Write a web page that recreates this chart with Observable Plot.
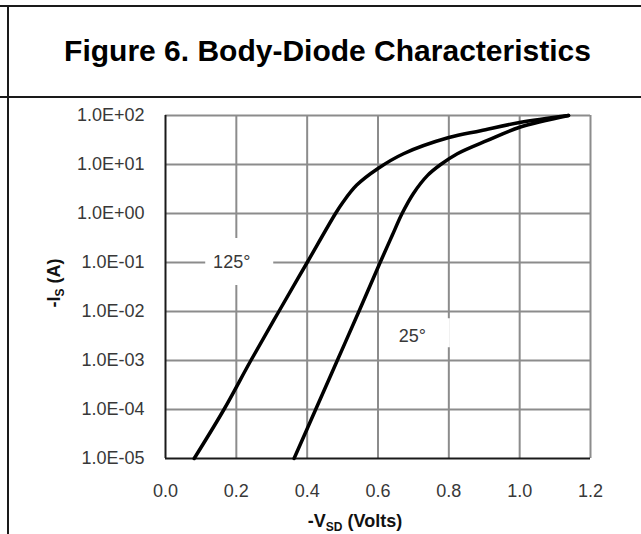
<!DOCTYPE html>
<html>
<head>
<meta charset="utf-8">
<script src="https://cdn.jsdelivr.net/npm/d3@7"></script>
<script src="https://cdn.jsdelivr.net/npm/@observablehq/plot@0.6"></script>
<style>
  html, body { margin: 0; padding: 0; background: #fff; }
  #wrap { position: relative; width: 641px; height: 534px; overflow: hidden; font-family: "Liberation Sans", Arial, sans-serif; }
  .hl { position: absolute; left: 0; width: 641px; height: 2px; background: #1a1a1a; }
  .vl { position: absolute; left: 7px; top: 5px; width: 2px; height: 529px; background: #1a1a1a; }
  #title { position: absolute; left: 8px; right: 0; top: 34px; text-align: center; font-weight: bold; font-size: 30px; color: #000; line-height: 34px; padding-left: 6px; }
  #chart { position: absolute; left: 0; top: 98px; }
</style>
</head>
<body>
<div id="wrap">
  <div class="hl" style="top:5px"></div>
  <div class="hl" style="top:96px"></div>
  <div class="vl"></div>
  <div id="title">Figure 6. Body-Diode Characteristics</div>
  <div id="chart"></div>
</div>
<script>
// Tick values and labels
const xTicks = [0, 0.2, 0.4, 0.6, 0.8, 1.0, 1.2];
const xTickLabels = ["0.0", "0.2", "0.4", "0.6", "0.8", "1.0", "1.2"];
const yTicks = [1e-5, 1e-4, 1e-3, 1e-2, 1e-1, 1e0, 1e1, 1e2];
const yTickLabels = ["1.0E-05", "1.0E-04", "1.0E-03", "1.0E-02", "1.0E-01", "1.0E+00", "1.0E+01", "1.0E+02"];

// 125 °C curve: -V_SD (V) and -I_S (A)
const vsd125 = [0.081, 0.165, 0.241, 0.320, 0.400, 0.480, 0.500, 0.540, 0.600, 0.672, 0.800, 0.890, 1.000, 1.138];
const is125  = [1e-5, 1e-4, 1e-3, 1e-2, 1e-1, 1.0, 1.66, 3.8, 8.3, 16.6, 35.5, 49, 72, 100];

// 25 °C curve
const vsd25 = [0.363, 0.424, 0.485, 0.546, 0.606, 0.640, 0.668, 0.700, 0.740, 0.777, 0.824, 0.909, 1.000, 1.138];
const is25  = [1e-5, 1e-4, 1e-3, 1e-2, 1e-1, 0.355, 1.0, 2.57, 6.0, 10, 16.6, 31, 57.5, 100];

// Curve annotations
const labelText = ["125°", "25°"];
const labelV = [0.187, 0.697];
const labelI = [0.1, 0.0032];

const data = [
  ...vsd125.map((v, i) => ({series: "125", v, i: is125[i]})),
  ...vsd25.map((v, i) => ({series: "25", v, i: is25[i]}))
];
const labels = labelText.map((t, k) => ({t, v: labelV[k], i: labelI[k]}));

const gridColor = "#8c8c8c";
const textColor = "#383838";

const plot = Plot.plot({
  width: 641,
  height: 436,
  marginTop: 17,
  marginBottom: 76,
  marginLeft: 165,
  marginRight: 51,
  style: {fontFamily: "'Liberation Sans', Arial, sans-serif", fontSize: "18px", color: textColor, background: "transparent"},
  x: {domain: [0, 1.2]},
  y: {type: "log", domain: [1e-5, 100]},
  marks: [
    Plot.ruleX(xTicks.slice(1), {stroke: gridColor, strokeWidth: 2}),
    Plot.ruleY(yTicks.slice(1), {stroke: gridColor, strokeWidth: 2}),
    // white backing boxes behind the curve labels
    Plot.rect(labels.filter(d => d.t === "125°"), {x1: "v", x2: "v", y1: "i", y2: "i", fill: "white",
      insetLeft: -26, insetRight: -42, insetTop: -24, insetBottom: -23}),
    Plot.rect(labels.filter(d => d.t === "25°"), {x1: "v", x2: "v", y1: "i", y2: "i", fill: "white",
      insetLeft: -18, insetRight: -38, insetTop: -17, insetBottom: -12}),
    Plot.ruleX([0], {stroke: "#1a1a1a", strokeWidth: 2}),
    Plot.ruleY([1e-5], {stroke: "#1a1a1a", strokeWidth: 2}),
    Plot.line(data, {x: "v", y: "i", z: "series", stroke: "#000", strokeWidth: 3.5, curve: "catmull-rom"}),
    Plot.text(labels, {x: "v", y: "i", text: "t", fontSize: 18, fill: textColor}),
    Plot.axisX({ticks: xTicks, tickFormat: d => xTickLabels[xTicks.indexOf(d)], tickSize: 0, tickPadding: 26, label: null, fontSize: 18}),
    Plot.axisY({ticks: yTicks, tickFormat: d => yTickLabels[yTicks.indexOf(d)], tickSize: 0, tickPadding: 21, label: null, fontSize: 18})
  ]
});

const svg = d3.select(plot);
// x-axis title with subscript
const xt = svg.append("text")
  .attr("x", 355).attr("y", 429)
  .attr("text-anchor", "middle")
  .attr("font-weight", "bold").attr("font-size", 18).attr("fill", "#111");
xt.append("tspan").text("-V");
xt.append("tspan").attr("font-size", 12).attr("dy", 4).text("SD");
xt.append("tspan").attr("dy", -4).text(" (Volts)");

// y-axis title with subscript
const yt = svg.append("text")
  .attr("transform", "translate(60,185) rotate(-90)")
  .attr("text-anchor", "middle")
  .attr("font-weight", "bold").attr("font-size", 18).attr("fill", "#111");
yt.append("tspan").text("-I");
yt.append("tspan").attr("font-size", 12).attr("dy", 4).text("S");
yt.append("tspan").attr("dy", -4).text(" (A)");

document.getElementById("chart").appendChild(plot);
</script>
</body>
</html>
